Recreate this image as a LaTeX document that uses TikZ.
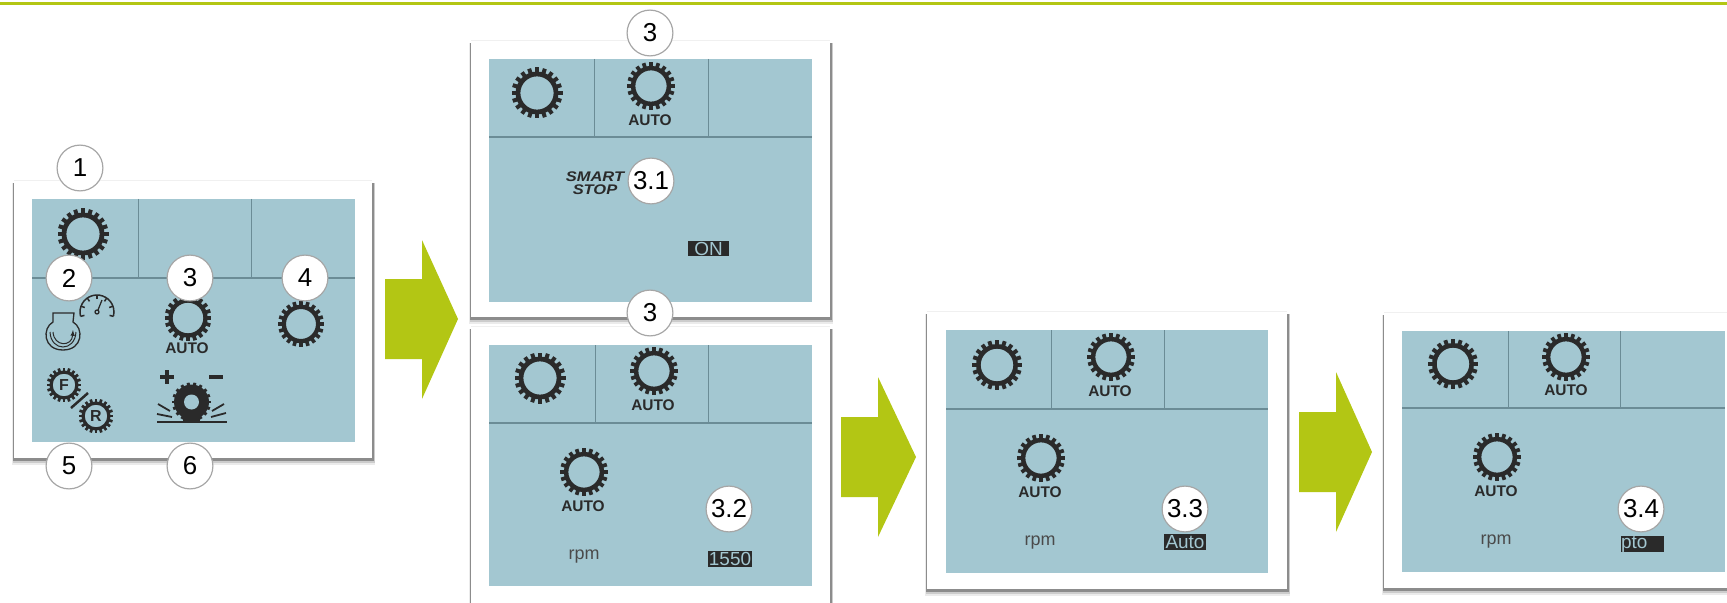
\documentclass[tikz,border=0pt]{standalone}
\usepackage{fontspec}
\setmainfont{Liberation Sans}

\definecolor{lime}{HTML}{B3C614}
\definecolor{lcd}{HTML}{A3C7D1}
\definecolor{ink}{HTML}{2A2A2A}
\definecolor{rule}{HTML}{6B8C96}

\tikzset{
  badge/.style={circle,draw=black!35,line width=1.2pt,fill=white,minimum size=46pt,inner sep=0pt,font=\fontsize{26}{28}\selectfont},
  autotext/.style={text=ink,font=\bfseries\fontsize{15.5}{17}\selectfont,inner sep=0pt},
  rpmtext/.style={text=ink!85,font=\fontsize{18}{20}\selectfont,inner sep=0pt},
  lcdbox/.style={fill=ink,text=lcd,font=\fontsize{19}{21}\selectfont,inner sep=0pt,minimum height=16pt},
}

% Gear: centre, radius
\newcommand{\gearicon}[2]{
  \begin{scope}[shift={(#1)}]
    \draw[ink,line width=0.19*#2pt] (0,0) circle (0.76*#2);
    \foreach \a in {0,18,...,342}
      \draw[ink,line width=0.16*#2pt] (\a:0.8*#2) -- (\a:1.02*#2);
  \end{scope}
}
% Panel frame: left, top, right, bottom
\newcommand{\panelframe}[4]{
  \fill[black!8] (#1-2,#2+2) rectangle (#3+3,#4+7);
  \fill[black!20] (#1-1.5,#2+2) rectangle (#3+2.5,#4+4.5);
  \fill[black!45] (#1-1,#2+2) rectangle (#3+1.5,#4+3);
  \fill[black!6] (#1,#2-1) rectangle (#3,#2);
  \fill[white] (#1,#2) rectangle (#3,#4);
}
% Panel screen: left, top, right, bottom, divider, two separators
\newcommand{\panelscreen}[7]{
  \fill[lcd] (#1,#2) rectangle (#3,#4);
  \draw[rule,line width=1.2pt] (#1,#5) -- (#3,#5);
  \draw[rule,line width=1pt] (#6,#2) -- (#6,#5);
  \draw[rule,line width=1pt] (#7,#2) -- (#7,#5);
}
% Block arrow: left, shaft top, shaft bottom, neck x, head top, head bottom, tip x
\newcommand{\blockarrow}[7]{
  \fill[lime] (#1,#2) -- (#4,#2) -- (#4,#5) -- (#7,{(#2+#3)/2}) -- (#4,#6) -- (#4,#3) -- (#1,#3) -- cycle;
}

\begin{document}
\begin{tikzpicture}[x=1bp,y=-1bp]
  \useasboundingbox (0,0) rectangle (1727,603);
  \clip (0,0) rectangle (1727,603);

  % Top line
  \fill[lime] (0,2) rectangle (1727,5);

  % Panel 1
  \panelframe{14}{181}{372}{458}
  \panelscreen{32}{199}{355}{442}{278}{138}{251}
  \gearicon{83,234}{25}
  \gearicon{188,318}{23}
  \gearicon{301,324}{22.5}
  \node[autotext] (autoa) at (187,348) {AUTO};

  % Engine and speed
  \draw[ink,line width=1.3pt] (53,313) -- (74,313) -- (73,322) .. controls (84,328) and (83,350) .. (63,350) .. controls (43,350) and (42,328) .. (53,322) -- cycle;
  \draw[ink,line width=1pt] (50,332) .. controls (51,352) and (75,352) .. (76,332);
  \draw[ink,line width=1pt,-latex] (53,332) .. controls (54,347) and (72,347) .. (73,330);
  \draw[ink,line width=1.5pt] (97,312) ++(165:17) arc (165:375:17);
  \foreach \a in {165,200,235,270,305,340,375}
    \draw[ink,line width=1.5pt] (97,312) ++(\a:13) -- ++(\a:4);
  \draw[ink,line width=1.3pt] (97,312) circle (2);
  \draw[ink,line width=1.3pt] (98,310) -- (102,300);

  % Forward and reverse
  \gearicon{64,385}{17}
  \gearicon{96,416}{17}
  \node[text=ink,inner sep=0pt,font=\bfseries\fontsize{16}{18}\selectfont] (gearf) at (64,385) {F};
  \node[text=ink,inner sep=0pt,font=\bfseries\fontsize{16}{18}\selectfont] (gearr) at (96,416) {R};
  \draw[ink,line width=2.5pt] (71,408) -- (88,393);

  % Tyre
  \fill[ink] (191.5,402) circle (17.5);
  \foreach \a in {0,20,...,340}
    \draw[ink,line width=3pt] (191.5,402) ++(\a:16) -- ++(\a:3.5);
  \fill[lcd] (191.5,402) circle (7.5);
  \fill[ink] (183,417) rectangle (200,422);
  \draw[ink,line width=3pt] (157,422) -- (227,422);
  \draw[ink,line width=1.8pt] (158,404) -- (170,411);
  \draw[ink,line width=1.8pt] (157,414) -- (172,417);
  \draw[ink,line width=1.8pt] (224,404) -- (212,411);
  \draw[ink,line width=1.8pt] (226,413) -- (211,417);
  \draw[ink,line width=3.5pt] (160,377) -- (174,377);
  \draw[ink,line width=3.5pt] (167,370) -- (167,384);
  \draw[ink,line width=3.5pt] (209,377) -- (223,377);

  % Panel 3.2
  \panelframe{471}{327}{830}{610}
  \panelscreen{489}{345}{812}{586}{423}{595}{708}
  \gearicon{540,378}{25}
  \gearicon{654,371}{23.5}
  \node[autotext] (autob) at (653,405) {AUTO};
  \gearicon{584,472}{23.5}
  \node[autotext] (autoc) at (583,506) {AUTO};
  \node[rpmtext] (rpma) at (584,557) {rpm};
  \node[lcdbox,minimum width=44pt] (rpmval) at (730,559) {1550};

  % Panel 3.1
  \panelframe{471}{41}{830}{317}
  \panelscreen{489}{59}{812}{302}{137}{594}{708}
  \gearicon{537,93}{25}
  \gearicon{651,86}{23.5}
  \node[autotext] (autod) at (650,120) {AUTO};
  \node[text=ink,inner sep=0pt,align=center,font=\bfseries\itshape\fontsize{14}{13.5}\selectfont] (smart) at (595,183) {\scalebox{1.18}[1]{SMART}\\\scalebox{1.18}[1]{STOP}};
  \node[lcdbox,minimum width=41pt,minimum height=15pt] (onval) at (708.5,248.5) {ON};

  % Panel 3.3
  \panelframe{927}{312}{1287}{589}
  \panelscreen{946}{330}{1268}{573}{409}{1051}{1164}
  \gearicon{997,365}{24.5}
  \gearicon{1111,357}{23.5}
  \node[autotext] (autoe) at (1110,391) {AUTO};
  \gearicon{1041,458}{23.5}
  \node[autotext] (autof) at (1040,492) {AUTO};
  \node[rpmtext] (rpmb) at (1040,543) {rpm};
  \node[lcdbox,minimum width=42pt] (autoval) at (1185,542) {Auto};

  % Panel 3.4
  \panelframe{1384}{313}{1740}{588}
  \panelscreen{1402}{331}{1725}{572}{408}{1508}{1620}
  \gearicon{1453,364}{24.5}
  \gearicon{1566,357}{23.5}
  \node[autotext] (autog) at (1566,390) {AUTO};
  \gearicon{1497,457}{23.5}
  \node[autotext] (autoh) at (1496,491) {AUTO};
  \node[rpmtext] (rpmc) at (1496,542) {rpm};
  \node[lcdbox,minimum width=43pt,text width=43pt,align=left] (ptoval) at (1642.5,544) {pto};

  % Arrows
  \blockarrow{385}{279}{359}{422}{240}{399}{458}
  \blockarrow{841}{417}{497}{878}{377}{537}{916}
  \blockarrow{1299}{412}{492}{1336}{372}{532}{1372}

  % Badges
  \node[badge] (na) at (80,168) {1};
  \node[badge] (nb) at (69,278) {2};
  \node[badge] (nc) at (190,278) {3};
  \node[badge] (nd) at (305,278) {4};
  \node[badge] (ne) at (69,466) {5};
  \node[badge] (nf) at (190,466) {6};
  \node[badge] (ng) at (650,33) {3};
  \node[badge] (nh) at (651,181) {3.1};
  \node[badge] (ni) at (650,313) {3};
  \node[badge] (nj) at (729,509) {3.2};
  \node[badge] (nk) at (1185,509) {3.3};
  \node[badge] (nl) at (1641,509) {3.4};
\end{tikzpicture}
\end{document}
